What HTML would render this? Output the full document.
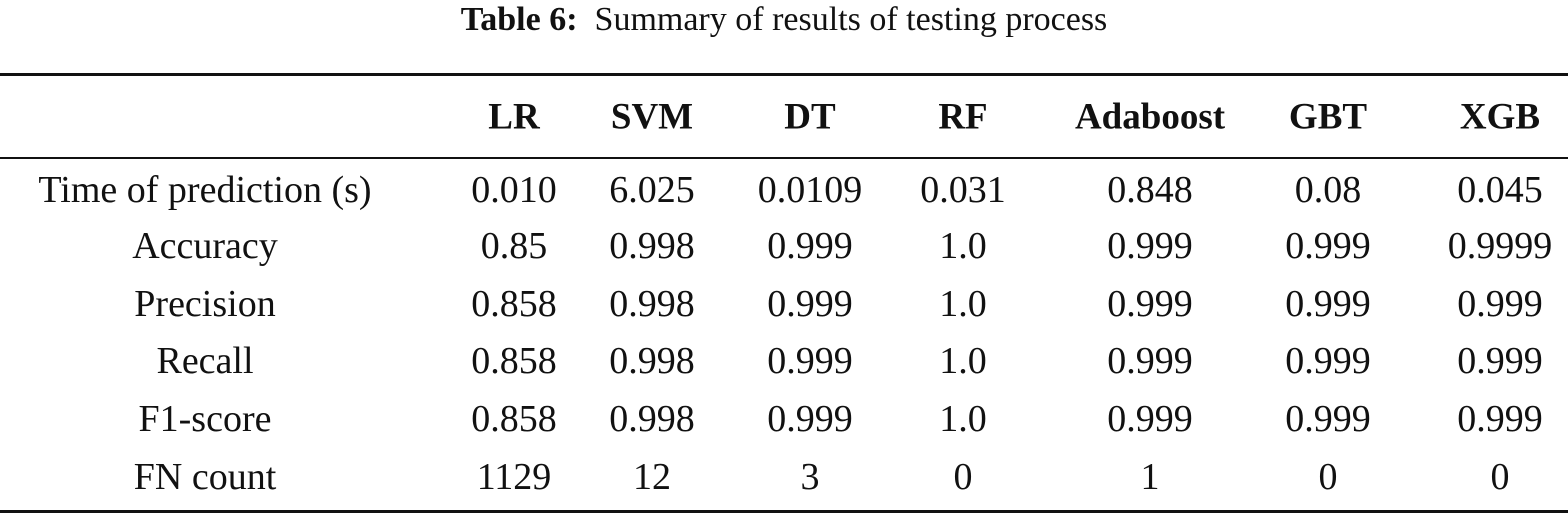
<!DOCTYPE html>
<html><head><meta charset="utf-8">
<style>
body{margin:0;width:1568px;height:515px;background:#fff;position:relative;overflow:hidden;font-family:"Liberation Serif",serif;color:#111}
.t{position:absolute;white-space:nowrap;transform:translate(-50%,-50%);font-size:38px;line-height:1}
.h{font-weight:bold;font-size:37px}
.rule{position:absolute;left:0;width:1568px;background:#111}
</style></head><body>
<div class="t" style="left:784px;top:20px;font-size:34px"><b>Table 6:</b>&nbsp; Summary of results of testing process</div>
<div class="rule" style="top:73px;height:3px"></div>
<div class="rule" style="top:157px;height:2px"></div>
<div class="rule" style="top:510px;height:3px"></div>
<div id="tbl"></div>
<script>
const cols=["LR","SVM","DT","RF","Adaboost","GBT","XGB"];
const colX=[514,652,810,963,1150,1328,1500];
const rowLabels=["Time of prediction (s)","Accuracy","Precision","Recall","F1-score","FN count"];
const rowY=[190,246,304,361,419,477];
const vals=[
["0.010","6.025","0.0109","0.031","0.848","0.08","0.045"],
["0.85","0.998","0.999","1.0","0.999","0.999","0.9999"],
["0.858","0.998","0.999","1.0","0.999","0.999","0.999"],
["0.858","0.998","0.999","1.0","0.999","0.999","0.999"],
["0.858","0.998","0.999","1.0","0.999","0.999","0.999"],
["1129","12","3","0","1","0","0"]];
const tb=document.getElementById('tbl');
function add(txt,x,y,cls,name){const d=document.createElement('div');d.className=cls;d.textContent=txt;d.style.left=x+'px';d.style.top=y+'px';


tb.appendChild(d);}
cols.forEach((c,i)=>add(c,colX[i],117,'t h','header-'+c.toLowerCase()));
rowLabels.forEach((r,j)=>{add(r,205,rowY[j],'t','row-label');vals[j].forEach((v,i)=>add(v,colX[i],rowY[j],'t','cell-value'));});
</script>
</body></html>
